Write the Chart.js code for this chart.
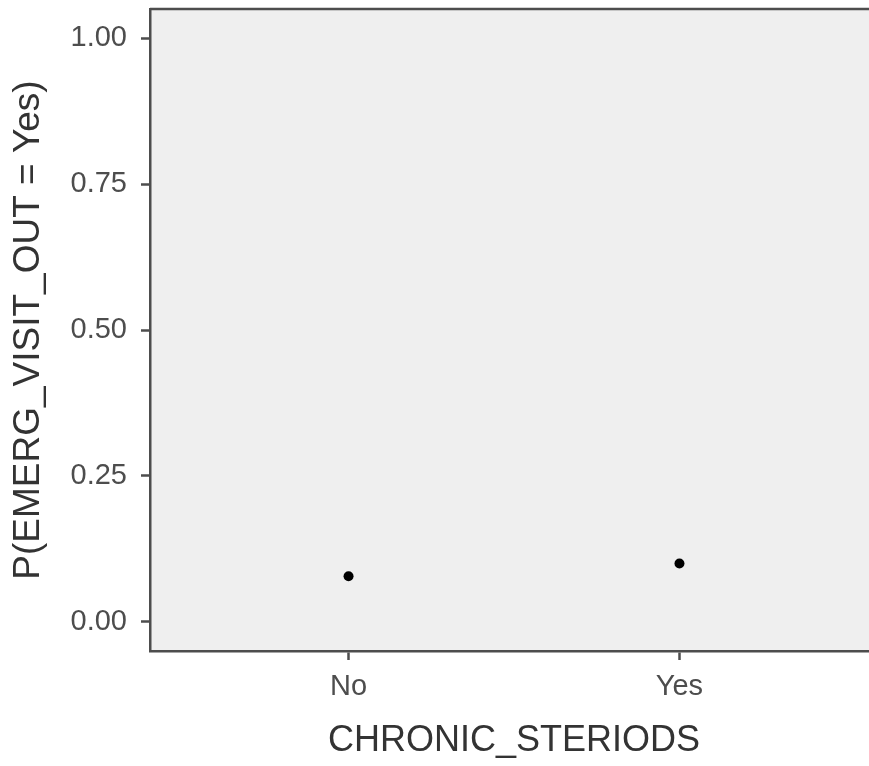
<!DOCTYPE html>
<html>
<head>
<meta charset="utf-8">
<script src="https://cdn.jsdelivr.net/npm/chart.js@4/dist/chart.umd.min.js"></script>
<style>
  html, body { margin: 0; padding: 0; background: #fff; overflow: hidden; }
  #wrap { width: 883px; height: 766px; position: relative; }
</style>
</head>
<body>
<div id="wrap"><canvas id="graph1"></canvas></div>
<script>
// categories on the x axis and the predicted probability for each
const categories = ["No", "Yes"];
const probs = [0.078, 0.100];
const yTickValues = [0, 0.25, 0.5, 0.75, 1];

const lineColor = "#4d4d4d";
const panelColor = "#efefef";

// grey panel plus the top edge line (the bottom and left edges are the axis borders)
const panelBg = {
  id: "panelBg",
  beforeDraw(chart) {
    const { ctx, chartArea } = chart;
    ctx.save();
    ctx.fillStyle = panelColor;
    ctx.fillRect(chartArea.left, chartArea.top, chartArea.right - chartArea.left, chartArea.bottom - chartArea.top);
    ctx.strokeStyle = lineColor;
    ctx.lineWidth = 2.5;
    ctx.beginPath();
    ctx.moveTo(chartArea.left, chartArea.top);
    ctx.lineTo(chartArea.right, chartArea.top);
    ctx.stroke();
    ctx.restore();
  }
};

let points = categories.map((c, i) => ({ x: i + 1, y: probs[i] }));

let context = document.getElementById("graph1").getContext("2d");
new Chart(context, {
  type: "scatter",
  data: {
    datasets: [
      {
        data: points,
        backgroundColor: "#000",
        borderWidth: 0,
        pointRadius: 5,
        pointHoverRadius: 5,
      },
    ],
  },
  options: {
    responsive: true,
    maintainAspectRatio: false,
    animation: false,
    layout: { padding: { top: 9, left: 0, right: 0, bottom: 0 } },
    plugins: {
      legend: { display: false },
      tooltip: { enabled: false },
    },
    scales: {
      x: {
        type: "linear",
        min: 0.4,
        max: 2.6,
        afterBuildTicks: scale => {
          scale.ticks = categories.map((c, i) => ({ value: i + 1 }));
        },
        afterFit: scale => {
          scale.height = 115;
          scale.paddingLeft = 0;
          scale.paddingRight = 0;
        },
        ticks: {
          callback: v => categories[v - 1],
          color: "#4d4d4d",
          font: { family: "Liberation Sans", size: 29 },
          padding: 10,
          maxRotation: 0,
        },
        grid: {
          drawOnChartArea: false,
          drawTicks: true,
          tickLength: 9,
          tickColor: lineColor,
          tickWidth: 2.5,
        },
        border: { display: true, color: lineColor, width: 2.5 },
        title: {
          display: true,
          text: "CHRONIC_STERIODS",
          color: "#333",
          font: { family: "Liberation Sans", size: 36, lineHeight: 1 },
          padding: { top: 0, bottom: 6.5 },
        },
      },
      y: {
        min: -0.05,
        max: 1.05,
        afterBuildTicks: scale => {
          scale.ticks = yTickValues.map(v => ({ value: v }));
        },
        afterFit: scale => {
          scale.width = 150;
          scale.paddingTop = 0;
          scale.paddingBottom = 0;
        },
        ticks: {
          callback: v => v.toFixed(2),
          color: "#4d4d4d",
          font: { family: "Liberation Sans", size: 29 },
          padding: 14,
        },
        grid: {
          drawOnChartArea: false,
          drawTicks: true,
          tickLength: 9,
          tickColor: lineColor,
          tickWidth: 2.5,
        },
        border: { display: true, color: lineColor, width: 2.5 },
        title: {
          display: true,
          text: "P(EMERG_VISIT_OUT = Yes)",
          color: "#333",
          font: { family: "Liberation Sans", size: 37, lineHeight: 1 },
          padding: { top: 10, bottom: 0 },
        },
      },
    },
  },
  plugins: [panelBg],
});
</script>
</body>
</html>
